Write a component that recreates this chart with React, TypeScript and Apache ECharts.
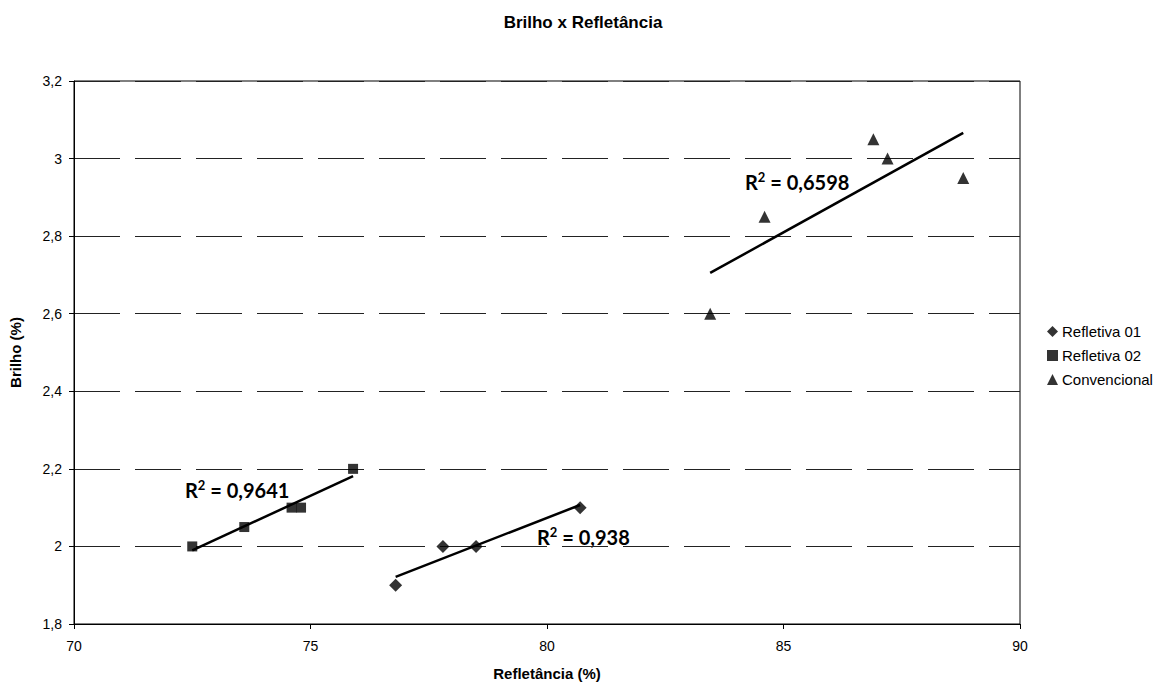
import React, { useEffect, useRef } from "react";
import * as echarts from "echarts";

const ref01X = [76.8, 77.8, 78.5, 80.7];
const ref01Y = [1.9, 2.0, 2.0, 2.1];
const ref02X = [72.5, 73.6, 74.6, 74.8, 75.9];
const ref02Y = [2.0, 2.05, 2.1, 2.1, 2.2];
const convX = [83.45, 84.6, 86.9, 87.2, 88.8];
const convY = [2.6, 2.85, 3.05, 3.0, 2.95];
const seriesNames = ["Refletiva 01", "Refletiva 02", "Convencional"];
const r2Labels = ["0,938", "0,9641", "0,6598"];
const xTicks = { min: 70, max: 90, interval: 5 };
const yTicks = { min: 1.8, max: 3.2, interval: 0.2 };

function trend(xs: number[], ys: number[]) {
  const n = xs.length;
  const mx = xs.reduce((a, b) => a + b, 0) / n;
  const my = ys.reduce((a, b) => a + b, 0) / n;
  let sxy = 0, sxx = 0;
  for (let i = 0; i < n; i++) {
    sxy += (xs[i] - mx) * (ys[i] - my);
    sxx += (xs[i] - mx) ** 2;
  }
  const b = sxy / sxx;
  const a = my - b * mx;
  const x0 = Math.min(...xs), x1 = Math.max(...xs);
  return [[x0, a + b * x0], [x1, a + b * x1]];
}

const zip = (xs: number[], ys: number[]) => xs.map((x, i) => [x, ys[i]]);

export default function App() {
  const ref = useRef<HTMLDivElement>(null);
  useEffect(() => {
    const chart = echarts.init(ref.current!, null, { renderer: "svg" });
    const font = "'Liberation Sans', Arial, sans-serif";
    const cal = "Lato, 'Open Sans', sans-serif";
    const r2Style = (val: string) => ({
      type: "text",
      style: {
        text: "{r|R}{s|2}{r| = " + val + "}",
        rich: {
          r: { fontSize: 20, fontWeight: "bold", fontFamily: cal, fill: "#000" },
          s: { fontSize: 13, fontWeight: "bold", fontFamily: cal, fill: "#000", verticalAlign: "top", padding: [0, 0, 11, 0] },
        },
      },
    });
    const sym = ["diamond", "rect", "triangle"];
    const sizes = [13, 10, 12];
    const datasets = [zip(ref01X, ref01Y), zip(ref02X, ref02Y), zip(convX, convY)];
    const trends = [trend(ref01X, ref01Y), trend(ref02X, ref02Y), trend(convX, convY)];
    chart.setOption({
      animation: false,
      title: {
        text: "Brilho x Refletância",
        left: 578,
        textAlign: "center",
        top: 9,
        textStyle: { fontSize: 17, fontWeight: "bold", fontFamily: font, color: "#000" },
      },
      grid: { left: 69, right: 138, top: 81, bottom: 57, show: true, borderColor: "#000", borderWidth: 1 },
      legend: {
        data: seriesNames.map((n, i) => ({ name: n, icon: sym[i] })),
        orient: "vertical",
        left: 1042,
        top: 319,
        itemWidth: 11,
        itemHeight: 11,
        itemGap: 9,
        textStyle: { fontSize: 15, fontFamily: font, color: "#000", padding: [0, 0, 0, -1] },
      },
      xAxis: {
        type: "value",
        min: xTicks.min,
        max: xTicks.max,
        interval: xTicks.interval,
        name: "Refletância (%)",
        nameLocation: "middle",
        nameGap: 42,
        nameTextStyle: { fontSize: 15, fontWeight: "bold", fontFamily: font, color: "#000" },
        axisLine: { lineStyle: { color: "#000", width: 1 } },
        axisTick: { show: true, length: 5, lineStyle: { color: "#000" } },
        axisLabel: { fontSize: 14, fontFamily: font, color: "#000", margin: 15 },
        splitLine: { show: false },
      },
      yAxis: {
        type: "value",
        min: yTicks.min,
        max: yTicks.max,
        interval: yTicks.interval,
        name: "Brilho (%)",
        nameLocation: "middle",
        nameGap: 51,
        nameTextStyle: { fontSize: 15, fontWeight: "bold", fontFamily: font, color: "#000" },
        axisLine: { show: true, lineStyle: { color: "#000", width: 1 } },
        axisTick: { show: true, length: 5, lineStyle: { color: "#000" } },
        axisLabel: {
          fontSize: 14,
          fontFamily: font,
          color: "#000",
          margin: 12,
          formatter: (v: number) => String(Math.round(v * 10) / 10).replace(".", ","),
        },
        splitLine: { show: true, lineStyle: { color: "#222", width: 1, type: [46, 15] } },
      },
      series: [
        ...datasets.map((d, i) => ({
          name: seriesNames[i],
          type: "scatter",
          data: d,
          symbol: sym[i],
          symbolSize: sizes[i],
          itemStyle: { color: "#000" },
          z: 3,
        })),
        ...trends.map((t, i) => ({
          name: "trend" + i,
          type: "line",
          data: t,
          symbol: "none",
          lineStyle: { color: "#000", width: 2.5 },
          z: 2,
          silent: true,
        })),
      ],
      graphic: [
        { ...r2Style(r2Labels[1]), left: 185, top: 478 },
        { ...r2Style(r2Labels[0]), left: 537, top: 525 },
        { ...r2Style(r2Labels[2]), left: 745, top: 170 },
      ],
    });
    return () => chart.dispose();
  }, []);
  return <div ref={ref} style={{ width: 1158, height: 686, position: "absolute", left: 0, top: 0 }} />;
}
